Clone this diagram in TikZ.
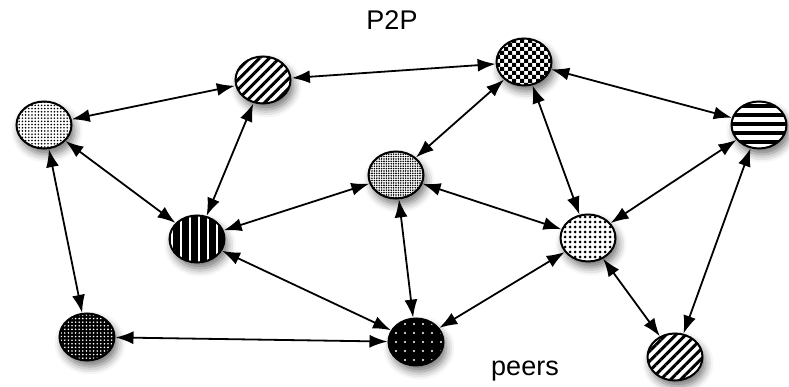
\documentclass[tikz,border=0pt]{standalone}
\usepackage{fontspec}
\setmainfont{Liberation Sans}
\usetikzlibrary{shapes.geometric,patterns,patterns.meta,shadows.blur,arrows.meta}

\pgfdeclarepatternformonly{bigchecker}{\pgfqpoint{-1pt}{-1pt}}{\pgfqpoint{9pt}{9pt}}{\pgfqpoint{8pt}{8pt}}{%
  \pgfpathrectangle{\pgfqpoint{0pt}{0pt}}{\pgfqpoint{4.1pt}{4.1pt}}%
  \pgfpathrectangle{\pgfqpoint{4pt}{4pt}}{\pgfqpoint{4.1pt}{4.1pt}}%
  \pgfusepath{fill}}
\pgfdeclarepatternformonly{widehlines}{\pgfqpoint{-1pt}{0pt}}{\pgfqpoint{10pt}{9pt}}{\pgfqpoint{9pt}{9pt}}{%
  \pgfpathrectangle{\pgfqpoint{-1pt}{0pt}}{\pgfqpoint{11pt}{4pt}}%
  \pgfusepath{fill}}
\pgfdeclarepatternformonly{widevlines}{\pgfqpoint{0pt}{-1pt}}{\pgfqpoint{9pt}{10pt}}{\pgfqpoint{9pt}{9pt}}{%
  \pgfpathrectangle{\pgfqpoint{0pt}{-1pt}}{\pgfqpoint{2.4pt}{11pt}}%
  \pgfusepath{fill}}

\tikzset{
  peer/.style    = {ellipse, draw, line width=2pt, minimum width=55pt,
                    minimum height=47pt, inner sep=0pt,
                    blur shadow={shadow xshift=3pt, shadow yshift=-6pt,
                                 shadow blur radius=8pt, shadow opacity=55}},
  light/.style   = {peer, preaction={fill=white}},
  dark/.style    = {peer, preaction={fill=black}, pattern color=white},
  link/.style    = {{Latex[length=18pt,width=13pt]}-{Latex[length=18pt,width=13pt]},
                    line width=1.8pt},
  netlabel/.style = {font=\fontsize{27}{30}\selectfont}
}

\begin{document}
\begin{tikzpicture}[x=1pt, y=-1pt]
  \useasboundingbox (0,0) rectangle (789,387);

  \node [netlabel] (title) at (392,20) {P2P};
  \node [netlabel] (peers) at (525,371) {peers};

  % peers
  \node [light, pattern={Dots[radius=0.9pt, distance=3.2pt]}]               (a) at (44,125)  {};
  \node [light, pattern={Lines[angle=45, distance=7pt, line width=3pt]}]     (b) at (263,80)  {};
  \node [light, pattern=bigchecker]                                          (c) at (524,62)  {};
  \node [light, pattern=widehlines]                                          (d) at (759,125) {};
  \node [light, pattern={Dots[radius=0.9pt, distance=2.4pt]}]                (e) at (396,175) {};
  \node [dark,  pattern=widevlines]                                          (f) at (197,239) {};
  \node [light, pattern={Dots[radius=1.5pt, distance=5pt]}]                  (g) at (588,238) {};
  \node [dark,  pattern={Dots[radius=0.9pt, distance=3.6pt]}]                (h) at (87,337)  {};
  \node [dark,  pattern={Dots[radius=1.2pt, distance=9pt]}]                  (i) at (416,342) {};
  \node [light, pattern={Lines[angle=45, distance=7pt, line width=3pt]}]     (j) at (675,357) {};

  % links
  \foreach \u/\v in {a/b, b/c, c/d, a/f, b/f, a/h, c/e, c/g, d/g, d/j,
                     e/f, e/g, e/i, f/i, g/i, g/j, h/i}
    \draw [link] (\u) -- (\v);
\end{tikzpicture}
\end{document}
